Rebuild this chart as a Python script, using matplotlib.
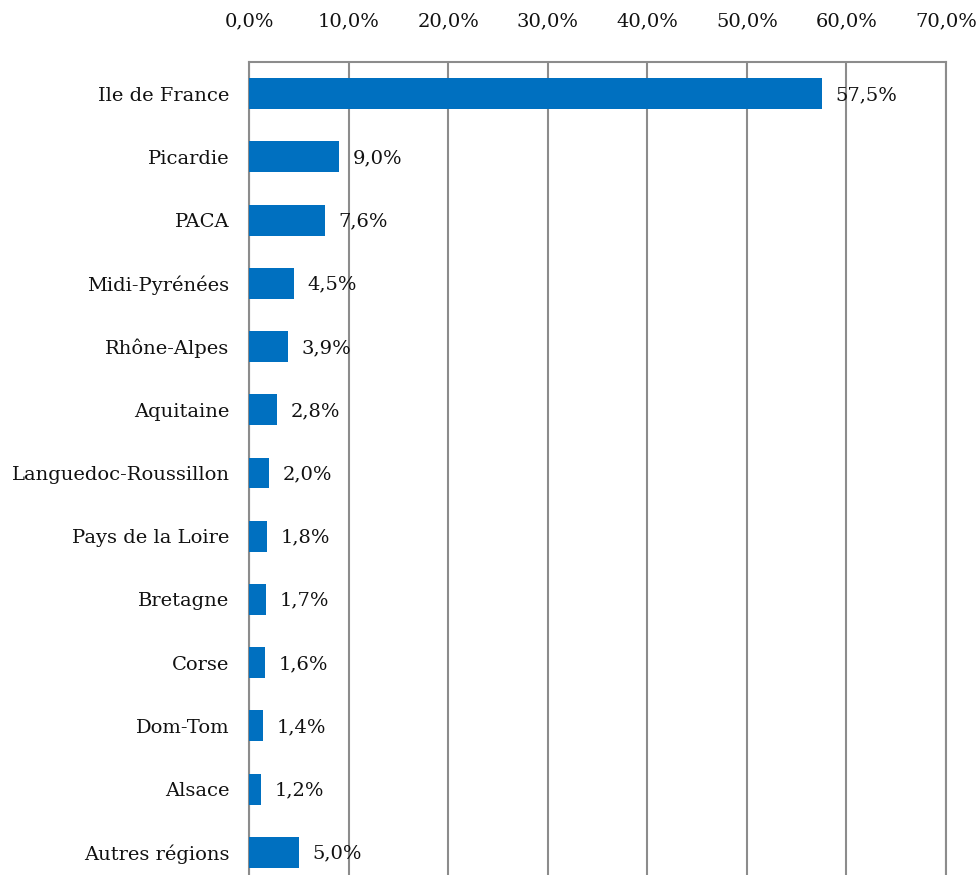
import numpy as np
import matplotlib
matplotlib.use("Agg")
import matplotlib.pyplot as plt

regions = ["Ile de France", "Picardie", "PACA", "Midi-Pyrénées", "Rhône-Alpes",
           "Aquitaine", "Languedoc-Roussillon", "Pays de la Loire", "Bretagne",
           "Corse", "Dom-Tom", "Alsace", "Autres régions"]
shares = [57.5, 9.0, 7.6, 4.5, 3.9, 2.8, 2.0, 1.8, 1.7, 1.6, 1.4, 1.2, 5.0]
ticks = [0, 10, 20, 30, 40, 50, 60, 70]

plt.rcParams['font.family'] = ['DejaVu Serif']

W, H = 977, 875
fig = plt.figure(figsize=(W / 100, H / 100), dpi=100)
left, right, top, bottom = 249, 946, 62, 884
ax = fig.add_axes([left / W, 1 - bottom / H, (right - left) / W, (bottom - top) / H])

y = np.arange(len(regions))
ax.barh(y, shares, height=0.49, color="#0070C0", zorder=3)

for yi, v in zip(y, shares):
    lbl = ("%.1f%%" % v).replace(".", ",")
    ax.annotate(lbl, (v, yi), xytext=(10, -1), textcoords="offset points",
                va="center", ha="left", fontsize=14, color="#111111", zorder=4)

ax.set_xlim(0, 70)
ax.set_ylim(len(regions) - 0.5, -0.5)
ax.set_xticks(ticks)
ax.set_xticklabels([("%.1f%%" % t).replace(".", ",") for t in ticks])
ax.xaxis.tick_top()
ax.tick_params(axis="x", length=0, pad=23, labelsize=14, colors="#111111")
ax.set_yticks(y)
ax.set_yticklabels(regions)
ax.tick_params(axis="y", length=0, pad=14, labelsize=14, colors="#111111")

ax.grid(axis="x", color="#8c8c8c", linewidth=1.5, zorder=0)
for s in ["top", "left", "right"]:
    ax.spines[s].set_color("#8c8c8c")
    ax.spines[s].set_linewidth(1.5)
ax.spines["bottom"].set_visible(False)

fig.savefig("out.png", dpi=100)
